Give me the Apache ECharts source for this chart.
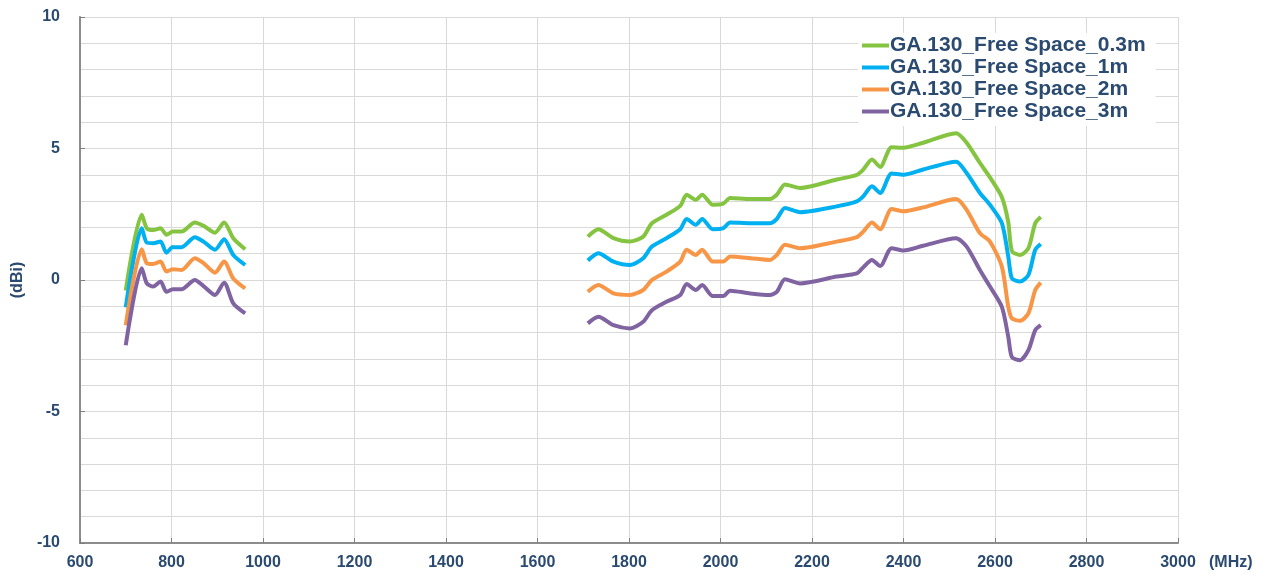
<!DOCTYPE html>
<html>
<head>
<meta charset="utf-8">
<title>GA.130 Free Space</title>
<script src="https://cdn.jsdelivr.net/npm/echarts@6/dist/echarts.min.js"></script>
<style>
  html, body { margin: 0; padding: 0; background: #fff; }
  #chart { width: 1269px; height: 578px; }
</style>
</head>
<body>
<div id="chart"></div>
<script>
// frequency points (MHz) for the two bands
var freqLow = [700, 735, 746, 760, 776, 789, 803, 822, 851, 870, 895, 915, 935, 961];
var freqHigh = [1710, 1733, 1766, 1802, 1831, 1850, 1882, 1912, 1926, 1946, 1960, 1983, 2006, 2021, 2065, 2108, 2123, 2141, 2174, 2254, 2298, 2312, 2331, 2349, 2374, 2400, 2443, 2515, 2538, 2567, 2589, 2615, 2629, 2637, 2655, 2673, 2688, 2700];

// gain (dBi)
var g03Low = [-0.4, 2.48, 1.97, 1.9, 1.97, 1.72, 1.84, 1.84, 2.19, 2.06, 1.8, 2.19, 1.59, 1.17];
var g1Low  = [-1.04, 1.97, 1.42, 1.4, 1.46, 1.04, 1.25, 1.25, 1.63, 1.46, 1.15, 1.55, 0.95, 0.57];
var g2Low  = [-1.72, 1.17, 0.64, 0.61, 0.7, 0.32, 0.41, 0.38, 0.83, 0.64, 0.28, 0.7, 0.06, -0.32];
var g3Low  = [-2.48, 0.45, -0.13, -0.25, -0.06, -0.45, -0.35, -0.35, 0, -0.23, -0.57, -0.1, -0.89, -1.27];

var g03High = [1.65, 1.93, 1.59, 1.46, 1.65, 2.16, 2.48, 2.82, 3.24, 3.05, 3.24, 2.86, 2.9, 3.12, 3.08, 3.08, 3.24, 3.63, 3.5, 3.82, 4.0, 4.2, 4.58, 4.3, 5.05, 5.03, 5.22, 5.58, 5.22, 4.45, 3.9, 3.15, 2.2, 1.1, 0.95, 1.21, 2.16, 2.4];
var g1High  = [0.74, 1.02, 0.7, 0.57, 0.83, 1.27, 1.59, 1.93, 2.32, 2.1, 2.32, 1.93, 1.97, 2.19, 2.16, 2.16, 2.32, 2.74, 2.58, 2.8, 2.99, 3.18, 3.56, 3.31, 4.05, 4.0, 4.2, 4.5, 4.07, 3.31, 2.86, 2.16, 0.89, 0.06, -0.06, 0.19, 1.15, 1.37];
var g2High  = [-0.45, -0.19, -0.51, -0.57, -0.38, 0, 0.32, 0.7, 1.15, 0.95, 1.15, 0.7, 0.7, 0.89, 0.83, 0.76, 0.95, 1.34, 1.21, 1.46, 1.63, 1.84, 2.19, 1.93, 2.7, 2.61, 2.76, 3.08, 2.67, 1.78, 1.46, 0.51, -1.02, -1.46, -1.55, -1.27, -0.38, -0.1];
var g3High  = [-1.65, -1.4, -1.72, -1.84, -1.59, -1.15, -0.83, -0.57, -0.15, -0.38, -0.19, -0.61, -0.61, -0.41, -0.51, -0.57, -0.45, 0.03, -0.13, 0.13, 0.25, 0.48, 0.76, 0.53, 1.21, 1.12, 1.3, 1.59, 1.27, 0.38, -0.25, -1.02, -2.16, -2.93, -3.05, -2.67, -1.91, -1.72];

var seriesNames = ['GA.130_Free Space_0.3m', 'GA.130_Free Space_1m', 'GA.130_Free Space_2m', 'GA.130_Free Space_3m'];
var seriesColors = ['#84c441', '#00b0f0', '#f79646', '#8064a2'];

// build [x, y] pairs, with a gap between the two bands
function pairs(low, high) {
  var out = [];
  for (var i = 0; i < freqLow.length; i++) out.push([freqLow[i], low[i]]);
  out.push([1300, null]);
  for (var j = 0; j < freqHigh.length; j++) out.push([freqHigh[j], high[j]]);
  return out;
}

var lows = [g03Low, g1Low, g2Low, g3Low];
var highs = [g03High, g1High, g2High, g3High];

var textColor = '#2b4a70';
var fontFam = 'Arial, "Liberation Sans", sans-serif';

var myChart = echarts.init(document.getElementById('chart'));

var series = seriesNames.map(function (name, k) {
  return {
    name: name,
    type: 'line',
    data: pairs(lows[k], highs[k]),
    showSymbol: false,
    smooth: 0.25,
    connectNulls: false,
    lineStyle: { width: 4, color: seriesColors[k] },
    itemStyle: { color: seriesColors[k] }
  };
});

myChart.setOption({
  animation: false,
  backgroundColor: '#fff',
  grid: { left: 80, right: 91, top: 17, bottom: 35 },
  legend: {
    data: seriesNames,
    orient: 'vertical',
    left: 858,
    top: 33,
    icon: 'rect',
    itemWidth: 27,
    itemHeight: 4,
    itemGap: 1,
    padding: [2, 10, 4, 4],
    backgroundColor: '#fff',
    textStyle: {
      color: textColor,
      fontFamily: fontFam,
      fontWeight: 'bold',
      fontSize: 21,
      lineHeight: 18,
      padding: [0, 0, 0, -4]
    }
  },
  xAxis: {
    type: 'value',
    min: 600,
    max: 3000,
    interval: 200,
    name: '(MHz)',
    nameLocation: 'end',
    nameGap: 31,
    nameTextStyle: {
      color: textColor, fontFamily: fontFam, fontWeight: 'bold', fontSize: 16,
      verticalAlign: 'top', padding: [12, 0, 0, 0]
    },
    axisLine: { onZero: false, lineStyle: { color: '#8c8c8c', width: 2 } },
    axisTick: { show: true, inside: true, length: 5, lineStyle: { color: '#7f7f7f' } },
    axisLabel: {
      color: textColor, fontFamily: fontFam, fontWeight: 'bold', fontSize: 16, margin: 12,
      formatter: function (v) { return String(v); }
    },
    splitLine: { show: true, lineStyle: { color: '#d9d9d9', width: 1 } }
  },
  yAxis: {
    type: 'value',
    min: -10,
    max: 10,
    interval: 5,
    name: '(dBi)',
    nameLocation: 'middle',
    nameRotate: 90,
    nameGap: 52,
    nameTextStyle: { color: textColor, fontFamily: fontFam, fontWeight: 'bold', fontSize: 16 },
    axisLine: { show: true, onZero: false, lineStyle: { color: '#8c8c8c', width: 2 } },
    axisTick: { show: true, inside: true, length: 5, lineStyle: { color: '#7f7f7f' } },
    axisLabel: { color: textColor, fontFamily: fontFam, fontWeight: 'bold', fontSize: 16, margin: 20 },
    splitLine: { show: true, lineStyle: { color: '#d9d9d9', width: 1 } },
    minorTick: { show: false, splitNumber: 5 },
    minorSplitLine: { show: true, lineStyle: { color: '#d9d9d9', width: 1 } }
  },
  series: series
});
</script>
</body>
</html>
